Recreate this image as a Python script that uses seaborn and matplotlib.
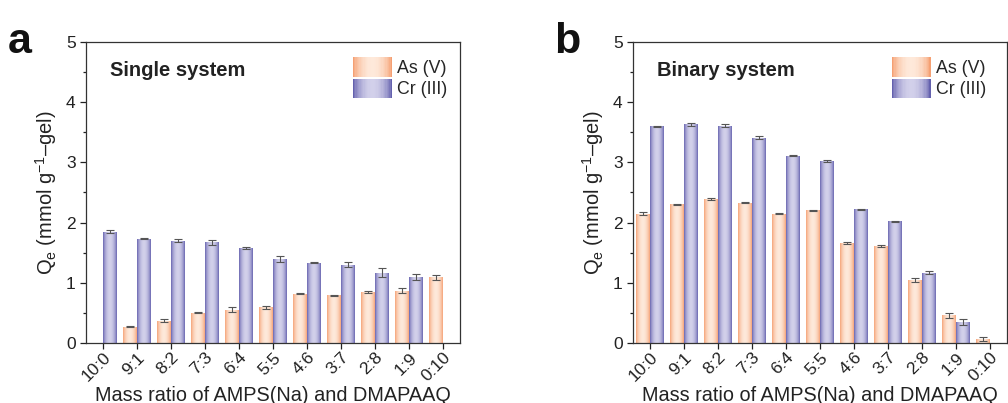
import numpy as np
import pandas as pd
import matplotlib
matplotlib.use("Agg")
import matplotlib.pyplot as plt
import seaborn as sns
from matplotlib.colors import LinearSegmentedColormap, to_hex
from matplotlib.legend_handler import HandlerBase
from matplotlib.patches import Rectangle
from matplotlib.ticker import MultipleLocator

ratios = ["10:0", "9:1", "8:2", "7:3", "6:4", "5:5", "4:6", "3:7", "2:8", "1:9", "0:10"]
species = ["As (V)", "Cr (III)"]

# Single system
single_as = [np.nan, 0.27, 0.37, 0.50, 0.55, 0.59, 0.82, 0.79, 0.85, 0.87, 1.09]
single_as_err = [np.nan, 0.01, 0.03, 0.01, 0.04, 0.03, 0.01, 0.01, 0.02, 0.04, 0.04]
single_cr = [1.85, 1.73, 1.70, 1.67, 1.58, 1.39, 1.33, 1.30, 1.17, 1.10, np.nan]
single_cr_err = [0.03, 0.01, 0.02, 0.04, 0.02, 0.05, 0.01, 0.04, 0.07, 0.05, np.nan]

# Binary system
binary_as = [2.15, 2.30, 2.39, 2.33, 2.15, 2.20, 1.66, 1.61, 1.05, 0.46, 0.07]
binary_as_err = [0.02, 0.01, 0.02, 0.01, 0.01, 0.01, 0.02, 0.01, 0.03, 0.04, 0.03]
binary_cr = [3.60, 3.63, 3.61, 3.41, 3.11, 3.02, 2.22, 2.02, 1.17, 0.34, np.nan]
binary_cr_err = [0.01, 0.03, 0.03, 0.02, 0.01, 0.02, 0.01, 0.01, 0.02, 0.05, np.nan]

panel_titles = ["Single system", "Binary system"]
panel_letters = ["a", "b"]

sns.set_theme(style="ticks")
plt.rcParams["font.family"] = ["Liberation Sans", "DejaVu Sans"]
plt.rcParams["mathtext.fontset"] = "custom"
plt.rcParams["mathtext.rm"] = "Liberation Sans"
plt.rcParams["mathtext.it"] = "Liberation Sans:italic"

# edge / centre colours of the shaded bars
shades = {
    "As (V)": ("#f5a073", "#fee9da"),
    "Cr (III)": ("#6461ae", "#d2d0ea"),
}
cmaps = {k: LinearSegmentedColormap.from_list(k, [e, c]) for k, (e, c) in shades.items()}
edge_lookup = {to_hex(e): k for k, (e, c) in shades.items()}
profile = np.sin(np.linspace(0, np.pi, 64)) ** 0.7
grad_img = profile[None, :]


class GradientHandler(HandlerBase):
    def __init__(self, name):
        super().__init__()
        self.name = name

    def create_artists(self, legend, orig_handle, xdescent, ydescent, width, height, fontsize, trans):
        n = 30
        arts = []
        cm = cmaps[self.name]
        prof = np.sin(np.linspace(0, np.pi, n)) ** 0.7
        for i in range(n):
            r = Rectangle((-xdescent + width * i / n, -ydescent), width / n * 1.08, height,
                          facecolor=cm(prof[i]), edgecolor="none", transform=trans)
            arts.append(r)
        return arts


fig = plt.figure(figsize=(10.08, 4.03), dpi=100)
axes = [fig.add_axes([0.0853, 0.149, 0.371, 0.747]),
        fig.add_axes([0.628, 0.149, 0.371, 0.747])]

datasets = [
    (single_as, single_as_err, single_cr, single_cr_err),
    (binary_as, binary_as_err, binary_cr, binary_cr_err),
]
legend_anchor_x = [1.0, 0.978]

for ax, (a, ae, c, ce), title, letter, lx in zip(axes, datasets, panel_titles,
                                                 panel_letters, legend_anchor_x):
    df = pd.DataFrame({
        "ratio": ratios * 2,
        "species": [species[0]] * len(ratios) + [species[1]] * len(ratios),
        "Qe": list(a) + list(c),
    })
    sns.barplot(data=df, x="ratio", y="Qe", hue="species", order=ratios,
                hue_order=species, errorbar=None, width=0.8, dodge=True,
                palette=[shades[s][0] for s in species], ax=ax, legend=False,
                saturation=1, edgecolor="none")

    # shade each bar with a horizontal gradient clipped to the bar
    for patch in list(ax.patches):
        sp = edge_lookup.get(to_hex(patch.get_facecolor()))
        h = patch.get_height()
        if sp is None or not np.isfinite(h) or h == 0:
            continue
        x0 = patch.get_x()
        w = patch.get_width()
        im = ax.imshow(grad_img, cmap=cmaps[sp], vmin=0, vmax=1, aspect="auto",
                       extent=[x0, x0 + w, 0, h], zorder=patch.get_zorder() + 0.1,
                       interpolation="bilinear")
        im.set_clip_path(patch)

    pos = np.arange(len(ratios))
    for vals, errs, off in ((a, ae, -0.2), (c, ce, 0.2)):
        ax.errorbar(pos + off, vals, yerr=errs, fmt="none", ecolor="#555555",
                    elinewidth=0.8, capsize=2.6, capthick=0.8, zorder=5)

    ax.set_xlim(-0.5, 10.5)
    ax.set_ylim(0, 5)
    ax.yaxis.set_major_locator(MultipleLocator(1))
    ax.yaxis.set_minor_locator(MultipleLocator(0.5))
    ax.tick_params(axis="both", which="both", direction="out", labelsize=12.5,
                   colors="#222222", width=0.9)
    ax.tick_params(axis="both", which="major", length=4)
    ax.tick_params(axis="y", which="minor", length=2.5)
    ax.tick_params(axis="x", pad=1)
    plt.setp(ax.get_xticklabels(), rotation=45, ha="right", va="top",
             rotation_mode="anchor")
    for sp_ in ax.spines.values():
        sp_.set_visible(True)
        sp_.set_linewidth(0.9)
        sp_.set_color("#333333")

    ax.set_xlabel("Mass ratio of AMPS(Na) and DMAPAAQ", fontsize=14.3, color="#222222",
                  labelpad=1)
    ax.set_ylabel("Q$_\\mathregular{e}$ (mmol g$^{\\mathregular{-1}}$\u2013gel)",
                  fontsize=14.5, color="#222222", labelpad=5)

    ax.text(0.065, 0.905, title, transform=ax.transAxes, fontsize=14.5,
            fontweight="bold", color="#222222", va="center")
    ax.text(-0.21, 1.0, letter, transform=ax.transAxes, fontsize=31,
            fontweight="bold", color="#111111", va="center", ha="left")

    handles = [Rectangle((0, 0), 1, 1) for _ in species]
    ax.legend(handles, species, loc="upper right", bbox_to_anchor=(lx, 0.99),
              frameon=False, fontsize=12.8, handlelength=2.2, handleheight=1.3,
              handletextpad=0.3, labelspacing=0.1, borderaxespad=0.3,
              handler_map={h: GradientHandler(s) for h, s in zip(handles, species)})

fig.savefig("out.png", dpi=100)
